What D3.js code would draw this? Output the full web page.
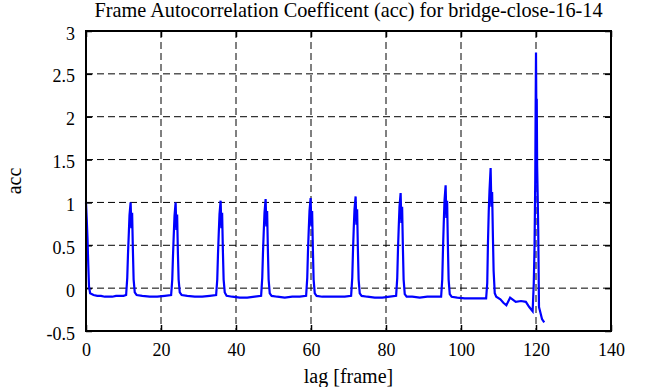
<html>
<head>
<meta charset="UTF-8">
<script src="https://cdn.jsdelivr.net/npm/d3@7"></script>
<style>
  body { margin: 0; background: #fff; }
  text { font-family: "Liberation Serif", "DejaVu Serif", serif; fill: #000; }
</style>
</head>
<body>
<div id="chart"></div>
<script>
// tick values along both axes
var xTicks = [0, 20, 40, 60, 80, 100, 120, 140];
var yTicks = [-0.5, 0, 0.5, 1, 1.5, 2, 2.5, 3];

// [lag, acc] samples
var samples = [
  [0, 1.00], [0.2, 0.80], [0.4, 0.58], [0.6, 0.28], [0.8, 0.02], [1.1, -0.06], [2, -0.08], [3, -0.09],
  [4, -0.09], [5, -0.10], [6, -0.10], [7, -0.10], [8, -0.09], [9, -0.09], [10, -0.09], [10.7, -0.08],
  [11.0, 0.12], [11.2, 0.40], [11.4, 0.62], [11.6, 0.85], [11.9, 1.00], [12.1, 0.70], [12.3, 0.88],
  [12.5, 0.45], [12.7, 0.10], [13.0, -0.05], [13.5, -0.08],
  [15, -0.09], [17, -0.10], [19, -0.10], [21, -0.09], [22.7, -0.08],
  [23.0, 0.10], [23.2, 0.38], [23.4, 0.62], [23.6, 0.84], [23.9, 1.00], [24.1, 0.68], [24.3, 0.86],
  [24.5, 0.42], [24.7, 0.10], [25.0, -0.05], [25.5, -0.08],
  [27, -0.09], [29, -0.10], [31, -0.10], [33, -0.09], [34.7, -0.08],
  [35.0, 0.10], [35.2, 0.40], [35.4, 0.64], [35.6, 0.86], [35.9, 1.02], [36.1, 0.70], [36.3, 0.88],
  [36.5, 0.44], [36.7, 0.10], [37.0, -0.05], [37.5, -0.09],
  [39, -0.10], [41, -0.11], [43, -0.11], [45, -0.10], [46.7, -0.09],
  [47.0, 0.12], [47.2, 0.42], [47.4, 0.66], [47.6, 0.88], [47.9, 1.04], [48.1, 0.72], [48.3, 0.90],
  [48.5, 0.45], [48.7, 0.10], [49.0, -0.06], [49.5, -0.09],
  [51, -0.10], [53, -0.11], [55, -0.10], [57, -0.10], [58.7, -0.09],
  [59.0, 0.12], [59.2, 0.44], [59.4, 0.68], [59.6, 0.90], [59.9, 1.05], [60.1, 0.72], [60.3, 0.90],
  [60.5, 0.46], [60.7, 0.10], [61.0, -0.06], [61.5, -0.09],
  [63, -0.10], [65, -0.10], [67, -0.10], [69, -0.10], [70.7, -0.09],
  [71.0, 0.12], [71.2, 0.44], [71.4, 0.70], [71.6, 0.92], [71.9, 1.07], [72.1, 0.74], [72.3, 0.92],
  [72.5, 0.46], [72.7, 0.10], [73.0, -0.06], [73.5, -0.09],
  [75, -0.10], [77, -0.11], [79, -0.11], [81, -0.10], [82.7, -0.09],
  [83.0, 0.12], [83.2, 0.46], [83.4, 0.72], [83.6, 0.95], [83.9, 1.11], [84.1, 0.76], [84.3, 0.95],
  [84.5, 0.48], [84.7, 0.10], [85.0, -0.07], [85.5, -0.10],
  [87, -0.10], [89, -0.11], [91, -0.10], [93, -0.10], [94.7, -0.10],
  [95.0, 0.10], [95.2, 0.46], [95.4, 0.76], [95.6, 1.02], [95.9, 1.20], [96.1, 0.82], [96.3, 1.02],
  [96.5, 0.50], [96.7, 0.10], [97.0, -0.07], [97.5, -0.10],
  [99, -0.11], [101, -0.12], [103, -0.12], [105, -0.12], [106.7, -0.12],
  [107.0, 0.06], [107.2, 0.55], [107.4, 0.90], [107.6, 1.14], [107.9, 1.40], [108.1, 0.95], [108.3, 1.12],
  [108.5, 0.62], [108.7, 0.20], [109.0, -0.06], [109.4, -0.10],
  [110.5, -0.13], [111.3, -0.17], [112.1, -0.20], [113.1, -0.11], [114.6, -0.16], [116, -0.15],
  [117.3, -0.16], [118.2, -0.22], [119.1, -0.27],
  [119.4, 0.05], [119.6, 0.46], [119.8, 1.26], [119.9, 2.08], [120.0, 2.75], [120.1, 2.00], [120.2, 2.21],
  [120.3, 1.44], [120.45, 1.07], [120.6, 0.66], [120.8, -0.22], [121.2, -0.29], [121.6, -0.36], [122.2, -0.40]
];

var W = 666, H = 387;
var margin = {top: 31, right: 55, bottom: 56, left: 86},
    width = W - margin.left - margin.right,
    height = H - margin.top - margin.bottom;

var svg = d3.select("#chart").append("svg")
    .attr("width", W)
    .attr("height", H);

var g = svg.append("g")
    .attr("transform", "translate(" + margin.left + "," + margin.top + ")");

var x = d3.scaleLinear().domain([0, 140]).range([0, width]);
var y = d3.scaleLinear().domain([-0.5, 3]).range([height, 0]);

// dashed grid
g.append("g").selectAll("line")
    .data(xTicks.slice(1, -1))
    .enter().append("line")
    .attr("x1", function(d) { return x(d); })
    .attr("x2", function(d) { return x(d); })
    .attr("y1", 0).attr("y2", height)
    .attr("stroke", "#000").attr("stroke-width", 1)
    .attr("stroke-dasharray", "7,4");
g.append("g").selectAll("line")
    .data(yTicks.slice(1, -1))
    .enter().append("line")
    .attr("y1", function(d) { return y(d); })
    .attr("y2", function(d) { return y(d); })
    .attr("x1", 0).attr("x2", width)
    .attr("stroke", "#000").attr("stroke-width", 1)
    .attr("stroke-dasharray", "7,4");

// axes with inward ticks on all four sides
function styleAxis(sel) {
  sel.attr("font-family", "Liberation Serif").attr("font-size", 18);
  sel.select(".domain").remove();
  sel.selectAll(".tick line").attr("stroke", "#000").attr("stroke-width", 1.5);
}
g.append("g")
    .attr("transform", "translate(0," + height + ")")
    .call(d3.axisBottom(x).tickValues(xTicks).tickSizeInner(-6).tickPadding(12).tickFormat(d3.format("d")))
    .call(styleAxis);
g.append("g")
    .call(d3.axisLeft(y).tickValues(yTicks).tickSizeInner(-6).tickPadding(11).tickFormat(function(d) { return String(d); }))
    .call(styleAxis)
    .selectAll("text").attr("dy", "0.45em");
g.append("g")
    .call(d3.axisTop(x).tickValues(xTicks).tickSizeInner(-6).tickFormat(""))
    .call(styleAxis);
g.append("g")
    .attr("transform", "translate(" + width + ",0)")
    .call(d3.axisRight(y).tickValues(yTicks).tickSizeInner(-6).tickFormat(""))
    .call(styleAxis);

// the data line
var line = d3.line()
    .x(function(d) { return x(d[0]); })
    .y(function(d) { return y(d[1]); });
g.append("path")
    .datum(samples)
    .attr("d", line)
    .attr("fill", "none")
    .attr("stroke", "#0000ff")
    .attr("stroke-width", 2.2);

// frame
g.append("rect")
    .attr("width", width).attr("height", height)
    .attr("fill", "none").attr("stroke", "#000").attr("stroke-width", 2);

// labels
svg.append("text")
    .attr("x", margin.left + width / 2).attr("y", 17)
    .attr("text-anchor", "middle").style("font-size", "20.3px")
    .text("Frame Autocorrelation Coefficent (acc) for bridge-close-16-14");
svg.append("text")
    .attr("x", margin.left + width / 2).attr("y", 383)
    .attr("text-anchor", "middle").style("font-size", "20px")
    .text("lag [frame]");
svg.append("text")
    .attr("transform", "translate(21," + (margin.top + height / 2) + ") rotate(-90)")
    .attr("text-anchor", "middle").style("font-size", "20px")
    .text("acc");
</script>
</body>
</html>
